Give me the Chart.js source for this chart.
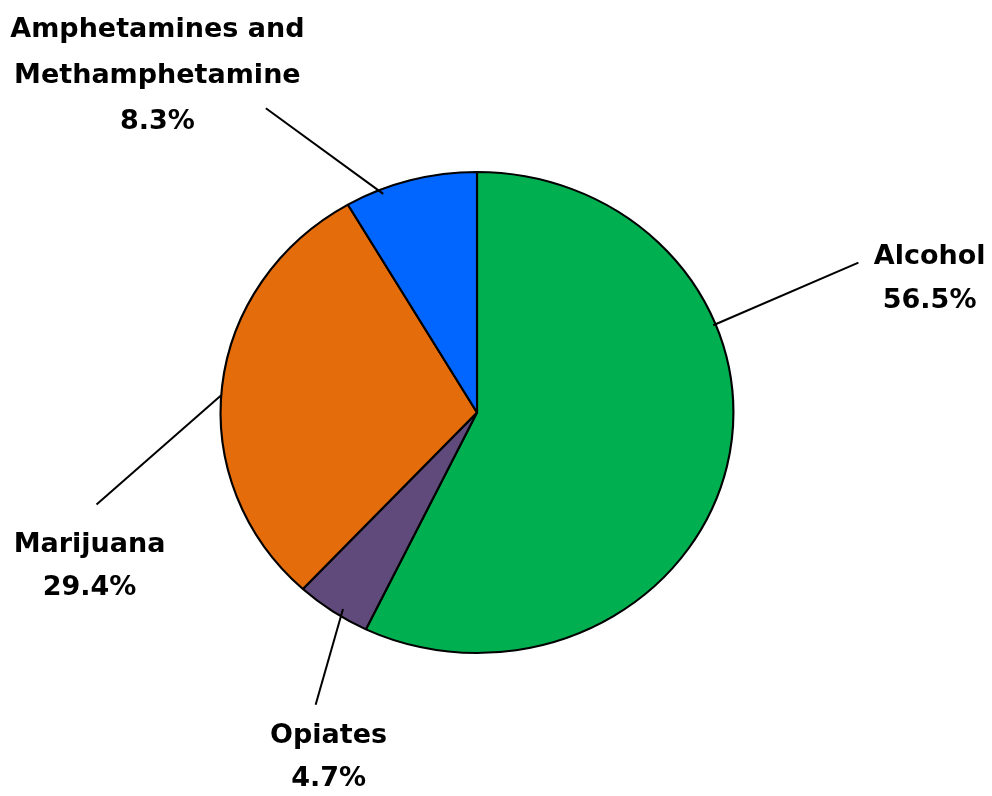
<!DOCTYPE html>
<html>
<head>
<meta charset="utf-8">
<script src="https://cdn.jsdelivr.net/npm/chart.js@4.4.0/dist/chart.umd.min.js"></script>
<style>
  html, body { margin: 0; padding: 0; background: #ffffff; }
  #wrap { width: 992px; height: 796px; position: relative; }
</style>
</head>
<body>
<div id="wrap"><canvas id="c"></canvas></div>
<script>
// ---- data ----
const categories = ["Alcohol", "Opiates", "Marijuana", "Amphetamines and Methamphetamine"];
const values = [56.5, 4.7, 29.4, 8.3];
const labelLines = [
  ["Alcohol", "56.5%"],
  ["Opiates", "4.7%"],
  ["Marijuana", "29.4%"],
  ["Amphetamines and", "Methamphetamine", "8.3%"]
];
const colors = ["#00B050", "#604A7B", "#E46C0A", "#0066FF"];

// ---- callout layout (relative to pie centre, in units of pie radius) ----
const ASPECT = 257.5 / 241.5; // the pie is drawn slightly wider than tall
const callouts = [
  { a: 68.5,  r: 0.99, end: [1.586, -0.623], text: [1.882, -0.648], lh: 0.186 },
  { a: 212.6, r: 0.97, end: [-0.671, 1.215], text: [-0.617, 1.347], lh: 0.176 },
  { a: 274.1, r: 1.00, end: [-1.582, 0.383], text: [-1.611, 0.552], lh: 0.178 },
  { a: 338.1, r: 0.98, end: [-0.878, -1.265], text: [-1.329, -1.590], lh: 0.190 }
];

const stretchPlugin = {
  id: 'stretch',
  beforeDatasetsDraw(chart) {
    const arc = chart.getDatasetMeta(0).data[0];
    const ctx = chart.ctx;
    ctx.save();
    ctx.translate(arc.x, arc.y);
    ctx.scale(ASPECT, 1);
    ctx.translate(-arc.x, -arc.y);
  },
  afterDatasetsDraw(chart) {
    chart.ctx.restore();
  }
};

const calloutPlugin = {
  id: 'callouts',
  afterDraw(chart) {
    const meta = chart.getDatasetMeta(0);
    const ctx = chart.ctx;
    const arc0 = meta.data[0];
    const cx = arc0.x, cy = arc0.y, R = arc0.outerRadius;
    ctx.save();
    meta.data.forEach((arc, i) => {
      const c = callouts[i];
      const rad = c.a * Math.PI / 180;
      const sx = cx + c.r * R * ASPECT * Math.sin(rad);
      const sy = cy - c.r * R * Math.cos(rad);
      const ex = cx + c.end[0] * R;
      const ey = cy + c.end[1] * R;
      ctx.beginPath();
      ctx.moveTo(sx, sy);
      ctx.lineTo(ex, ey);
      ctx.strokeStyle = '#000';
      ctx.lineWidth = 2;
      ctx.stroke();
      ctx.fillStyle = '#000';
      ctx.font = 'bold 27px "DejaVu Sans", sans-serif';
      ctx.textAlign = 'center';
      ctx.textBaseline = 'middle';
      const tx = cx + c.text[0] * R;
      labelLines[i].forEach((ln, k) => {
        ctx.fillText(ln, tx, cy + (c.text[1] + k * c.lh) * R);
      });
    });
    ctx.restore();
  }
};

new Chart(document.getElementById('c'), {
  type: 'pie',
  data: {
    labels: categories,
    datasets: [{
      data: values,
      backgroundColor: colors,
      borderColor: '#000000',
      borderWidth: 2,
      hoverOffset: 0
    }]
  },
  options: {
    responsive: true,
    maintainAspectRatio: false,
    animation: false,
    layout: { padding: { top: 171, bottom: 142, left: 0, right: 38 } },
    plugins: {
      legend: { display: false },
      tooltip: { enabled: false }
    }
  },
  plugins: [stretchPlugin, calloutPlugin]
});
</script>
</body>
</html>
